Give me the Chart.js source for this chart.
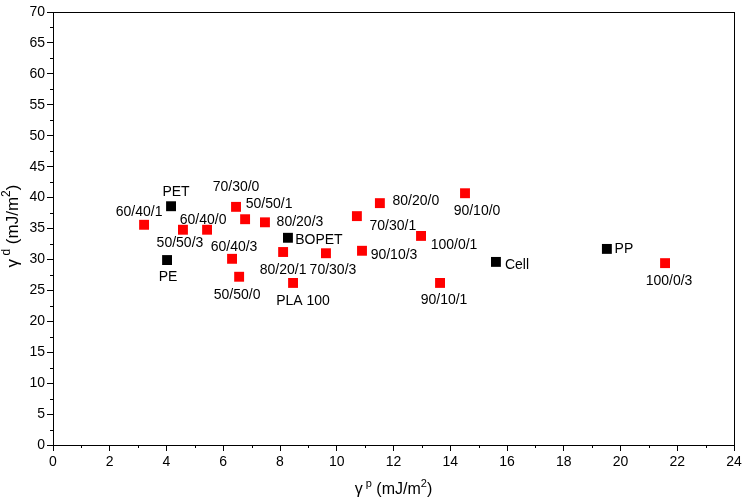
<!DOCTYPE html>
<html>
<head>
<meta charset="utf-8">
<script src="https://cdn.jsdelivr.net/npm/chart.js@4/dist/chart.umd.min.js"></script>
<style>
  html, body { margin: 0; padding: 0; background: #fff; }
  #wrap { width: 748px; height: 504px; }
</style>
</head>
<body>
<div id="wrap"><canvas id="chart"></canvas></div>
<script>
// blends (red) and reference films (black)
const blendNames = ['60/40/1', '50/50/3', '60/40/0', '70/30/0', '50/50/1', '80/20/3', '60/40/3', '50/50/0',
    '80/20/1', 'PLA 100', '70/30/3', '70/30/1', '80/20/0', '90/10/3', '100/0/1', '90/10/1', '90/10/0', '100/0/3'];
const blendPolar = [3.21, 4.58, 5.43, 6.45, 6.77, 7.47, 6.31, 6.56, 8.11, 8.46, 9.62, 10.71, 11.52, 10.89, 12.97, 13.64, 14.52, 21.57];
const blendDisp = [35.6, 34.8, 34.8, 38.5, 36.5, 36.0, 30.1, 27.2, 31.2, 26.2, 31.0, 37.0, 39.1, 31.4, 33.8, 26.2, 40.7, 29.4];

const refNames = ['PET', 'PE', 'BOPET', 'Cell', 'PP'];
const refPolar = [4.16, 4.02, 8.28, 15.61, 19.52];
const refDisp = [38.6, 29.9, 33.5, 29.6, 31.7];

const xTicks = [0, 2, 4, 6, 8, 10, 12, 14, 16, 18, 20, 22, 24];
const yTicks = [0, 5, 10, 15, 20, 25, 30, 35, 40, 45, 50, 55, 60, 65, 70];

// label offsets in px from the marker (dx, dy)
const blendLabelPos = [[-5, -13], [-3, 13], [-4, -10], [0, -20], [24, -15], [35, 0], [2, -12], [-2, 18],
    [0, 18], [10, 18], [7, 17], [36, 10], [36, -2], [32, 4], [33, 9], [4, 17], [12, 18], [4, 18]];
const refLabelPos = [[5, -14], [1, 17], [31, 2], [21, 3], [17, 0]];

const FAMILY = '"Liberation Sans", Arial, sans-serif';
const FONT = '14px ' + FAMILY;

const toPoints = (xs, ys) => xs.map((x, i) => ({ x: x, y: ys[i] }));

const labelsPlugin = {
    id: 'pointLabels',
    afterDatasetsDraw(chart) {
        const ctx = chart.ctx;
        const sets = [[blendNames, blendLabelPos], [refNames, refLabelPos]];
        ctx.save();
        ctx.font = FONT;
        ctx.fillStyle = '#000';
        ctx.textAlign = 'center';
        ctx.textBaseline = 'middle';
        sets.forEach(([names, pos], di) => {
            chart.getDatasetMeta(di).data.forEach((pt, i) => {
                ctx.fillText(names[i], pt.x + pos[i][0], pt.y + pos[i][1]);
            });
        });
        ctx.restore();
    }
};

const framePlugin = {
    id: 'frame',
    afterDraw(chart) {
        const ctx = chart.ctx;
        const a = chart.chartArea;
        const xs = chart.scales.x, ys = chart.scales.y;
        ctx.save();
        ctx.strokeStyle = '#000';
        ctx.lineWidth = 1;
        ctx.strokeRect(a.left + 0.5, a.top + 0.5, a.right - a.left, a.bottom - a.top);
        // minor ticks
        ctx.beginPath();
        for (let v = 1; v < 24; v += 2) {
            const px = Math.round(xs.getPixelForValue(v)) + 0.5;
            ctx.moveTo(px, a.bottom); ctx.lineTo(px, a.bottom + 3);
        }
        for (let v = 2.5; v < 70; v += 5) {
            const py = Math.round(ys.getPixelForValue(v)) + 0.5;
            ctx.moveTo(a.left, py); ctx.lineTo(a.left - 3, py);
        }
        ctx.stroke();

        // axis titles with superscripts
        ctx.fillStyle = '#000';
        ctx.textBaseline = 'alphabetic';
        const drawTitle = (parts, size) => {
            const big = size + 'px ' + FAMILY;
            const small = Math.round(size * 0.68) + 'px ' + FAMILY;
            let w = 0;
            parts.forEach(p => { ctx.font = p[1] ? small : big; w += ctx.measureText(p[0]).width; });
            let x = -w / 2;
            ctx.textAlign = 'left';
            parts.forEach(p => {
                ctx.font = p[1] ? small : big;
                ctx.fillText(p[0], x, p[1] ? -Math.round(size * 0.45) : 0);
                x += ctx.measureText(p[0]).width;
            });
        };
        ctx.save();
        ctx.translate((a.left + a.right) / 2, 494);
        drawTitle([['γ', false], [' p', true], [' (mJ/m', false], ['2', true], [')', false]], 16);
        ctx.restore();
        ctx.save();
        ctx.translate(18, 226);
        ctx.rotate(-Math.PI / 2);
        drawTitle([['γ', false], [' d', true], [' (mJ/m', false], ['2', true], [')', false]], 17);
        ctx.restore();
        ctx.restore();
    }
};

new Chart(document.getElementById('chart'), {
    type: 'scatter',
    data: {
        datasets: [
            {
                data: toPoints(blendPolar, blendDisp),
                pointStyle: 'rect',
                pointRadius: 7,
                pointHoverRadius: 7,
                backgroundColor: '#ff0000',
                borderColor: '#ff0000',
                borderWidth: 0
            },
            {
                data: toPoints(refPolar, refDisp),
                pointStyle: 'rect',
                pointRadius: 7,
                pointHoverRadius: 7,
                backgroundColor: '#000000',
                borderColor: '#000000',
                borderWidth: 0
            }
        ]
    },
    options: {
        responsive: true,
        maintainAspectRatio: false,
        animation: false,
        layout: { padding: { left: 0, top: 12, right: 14, bottom: 0 } },
        plugins: {
            legend: { display: false },
            tooltip: { enabled: false }
        },
        scales: {
            x: {
                type: 'linear',
                min: 0,
                max: 24,
                afterBuildTicks: (s) => { s.ticks = xTicks.map(v => ({ value: v })); },
                afterFit: (s) => { s.height = 59; },
                grid: { drawOnChartArea: false, tickLength: 6, color: '#000' },
                border: { color: '#000' },
                ticks: { color: '#000', font: { size: 14, family: FAMILY }, padding: 3, maxRotation: 0 }
            },
            y: {
                type: 'linear',
                min: 0,
                max: 70,
                afterBuildTicks: (s) => { s.ticks = yTicks.map(v => ({ value: v })); },
                afterFit: (s) => { s.width = 53; },
                grid: { drawOnChartArea: false, tickLength: 6, color: '#000' },
                border: { color: '#000' },
                ticks: { color: '#000', font: { size: 14, family: FAMILY }, padding: 2 }
            }
        }
    },
    plugins: [labelsPlugin, framePlugin]
});
</script>
</body>
</html>
